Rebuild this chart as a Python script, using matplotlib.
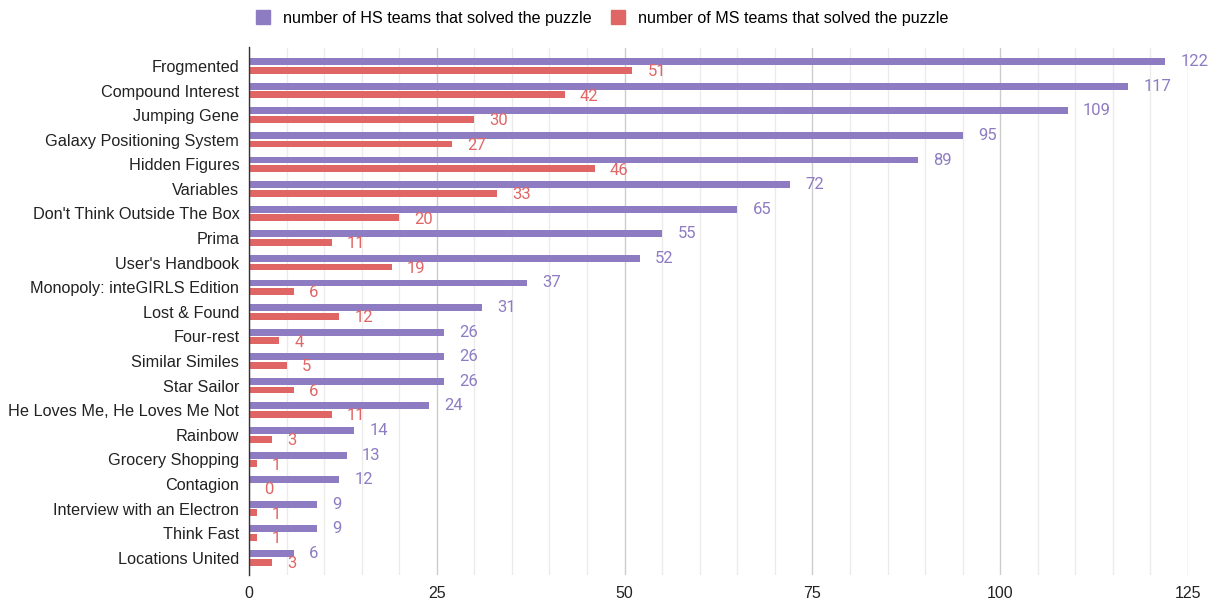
import numpy as np
import matplotlib
matplotlib.use("Agg")
import matplotlib.pyplot as plt
from matplotlib.lines import Line2D

# --------- DATA ---------
puzzles = ["Frogmented", "Compound Interest", "Jumping Gene", "Galaxy Positioning System",
           "Hidden Figures", "Variables", "Don't Think Outside The Box", "Prima",
           "User's Handbook", "Monopoly: inteGIRLS Edition", "Lost & Found", "Four-rest",
           "Similar Similes", "Star Sailor", "He Loves Me, He Loves Me Not", "Rainbow",
           "Grocery Shopping", "Contagion", "Interview with an Electron", "Think Fast",
           "Locations United"]
hs_solved = [122, 117, 109, 95, 89, 72, 65, 55, 52, 37, 31, 26, 26, 26, 24, 14, 13, 12, 9, 9, 6]
ms_solved = [51, 42, 30, 27, 46, 33, 20, 11, 19, 6, 12, 4, 5, 6, 11, 3, 1, 0, 1, 1, 3]
hs_label = "number of HS teams that solved the puzzle"
ms_label = "number of MS teams that solved the puzzle"

HS_COLOR = "#8e7cc3"
MS_COLOR = "#e06666"
SANS = ['Liberation Sans', 'DejaVu Sans']

plt.rcParams['font.family'] = ['Roboto', 'DejaVu Sans']

fig = plt.figure(figsize=(12.18, 6.01), dpi=100)
ax = fig.add_axes([249 / 1218, 1 - 575 / 601, 939 / 1218, 527.5 / 601])

y = np.arange(len(puzzles))
off, h = 0.175, 0.28
ax.barh(y - off, hs_solved, height=h, color=HS_COLOR, linewidth=0, zorder=3)
ax.barh(y + off, ms_solved, height=h, color=MS_COLOR, linewidth=0, zorder=3)

# value labels
for yi, v in zip(y, hs_solved):
    ax.annotate(str(v), (v, yi - off), xytext=(11, 0), textcoords="offset points",
                ha="left", va="center", color=HS_COLOR, fontsize=12, zorder=4)
for yi, v in zip(y, ms_solved):
    ax.annotate(str(v), (v, yi + off), xytext=(11, -1), textcoords="offset points",
                ha="left", va="center", color=MS_COLOR, fontsize=12, zorder=4)

ax.set_xlim(0, 125)
ax.set_ylim(20.7, -0.75)
ax.set_yticks(y)
ax.set_yticklabels(puzzles, fontsize=11.7, color="#222222", family=SANS)
ax.set_xticks(np.arange(0, 126, 25))
ax.set_xticks(np.arange(0, 126, 5), minor=True)
ax.tick_params(axis="x", which="both", length=0, pad=8, labelsize=11.5, labelcolor="#222222")
ax.tick_params(axis="y", length=0, pad=7)
for lbl in ax.get_xticklabels():
    lbl.set_family(SANS)
ax.grid(axis="x", which="major", color="#cccccc", linewidth=1, zorder=0)
ax.grid(axis="x", which="minor", color="#ebebeb", linewidth=1, zorder=0)
for s in ["top", "right", "bottom"]:
    ax.spines[s].set_visible(False)
ax.spines["left"].set_color("#333333")
ax.spines["left"].set_linewidth(1)
ax.spines["left"].set_zorder(5)

handles = [Line2D([], [], marker="s", linestyle="none", markersize=10, color=HS_COLOR),
           Line2D([], [], marker="s", linestyle="none", markersize=10, color=MS_COLOR)]
fig.legend(handles, [hs_label, ms_label], loc="center", bbox_to_anchor=(603 / 1218, 1 - 18 / 601),
           ncol=2, frameon=False, handlelength=0.7, handletextpad=0.9, columnspacing=1.3,
           prop={'family': SANS, 'size': 11.6})

fig.savefig("out.png", dpi=100)
